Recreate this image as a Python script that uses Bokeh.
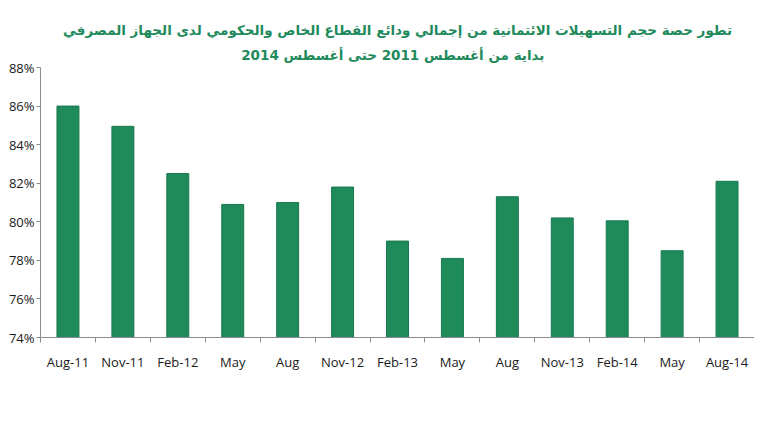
from bokeh.plotting import figure
from bokeh.models import FixedTicker, Title, ColumnDataSource
from bokeh.embed import file_html
from bokeh.resources import INLINE

categories = ["Aug-11", "Nov-11", "Feb-12", "May", "Aug", "Nov-12", "Feb-13",
              "May", "Aug", "Nov-13", "Feb-14", "May", "Aug-14"]
values = [86.0, 84.95, 82.5, 80.9, 81.0, 81.8, 79.0, 78.1, 81.3, 80.2, 80.05, 78.5, 82.1]
y_ticks = [74, 76, 78, 80, 82, 84, 86, 88]
title_line1 = "تطور حصة حجم التسهيلات الائتمانية من إجمالي ودائع القطاع الخاص والحكومي لدى الجهاز المصرفي"
title_line2 = "بداية من أغسطس  2011 حتى أغسطس  2014"

positions = list(range(1, len(categories) + 1))
src = ColumnDataSource(dict(x=positions, top=values, label=categories))

p = figure(width=754, height=431, output_backend="svg", toolbar_location=None,
           x_range=(0.5, len(categories) + 0.5), y_range=(y_ticks[0], y_ticks[-1]),
           min_border_left=40, min_border_right=0, min_border_bottom=94,
           min_border_top=67, title=None)

p.vbar(x="x", top="top", bottom=y_ticks[0], width=0.4, source=src,
       fill_color="#1f8b5b", line_color="#197a4e", line_width=1)

axis_color = "#8c8c8c"
label_font = "Open Sans"

xa = p.xaxis[0]
xa.ticker = FixedTicker(ticks=positions, minor_ticks=[i + 0.5 for i in range(len(categories) + 1)])
xa.major_label_overrides = {pos: c for pos, c in zip(positions, categories)}
xa.major_tick_line_color = None
xa.minor_tick_line_color = axis_color
xa.minor_tick_out = 5
xa.minor_tick_in = 0
xa.axis_line_color = axis_color
xa.major_label_text_font = label_font
xa.major_label_text_font_size = "13px"
xa.major_label_text_color = "#1a1a1a"
xa.major_label_standoff = 9

ya = p.yaxis[0]
ya.ticker = FixedTicker(ticks=y_ticks, minor_ticks=[])
ya.major_label_overrides = {t: f"{t}%" for t in y_ticks}
ya.major_tick_out = 4
ya.major_tick_in = 0
ya.major_tick_line_color = axis_color
ya.axis_line_color = axis_color
ya.major_label_text_font = label_font
ya.major_label_text_font_size = "13px"
ya.major_label_text_color = "#1a1a1a"
ya.major_label_standoff = 2

p.xgrid.visible = False
p.ygrid.visible = False
p.outline_line_color = None

title_color = "#1f8a5c"
for line, sd in ((title_line2, 9), (title_line1, 5)):
    p.add_layout(Title(text=line, align="center", text_font="DejaVu Sans",
                       text_font_style="bold", text_font_size="13.5px",
                       text_color=title_color, standoff=sd, offset=-8), "above")

open("out.html", "w").write(file_html(p, INLINE))
